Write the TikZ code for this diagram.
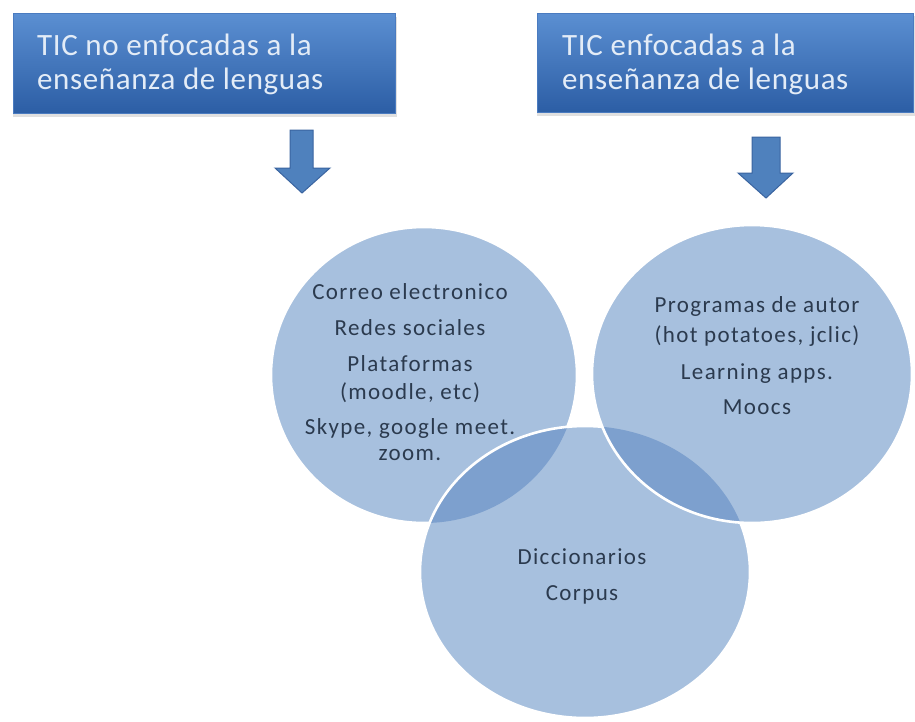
\documentclass[tikz,border=0pt]{standalone}
\usepackage{fontspec}
\setmainfont{Carlito}
\definecolor{hdtop}{HTML}{5B8FD2}
\definecolor{hdbot}{HTML}{2C5EA5}
\definecolor{hdline}{HTML}{4A7BC0}
\definecolor{hdtext}{HTML}{E3ECF7}
\definecolor{arrfill}{HTML}{4F81BD}
\definecolor{arrline}{HTML}{3A64A0}
\definecolor{cirlight}{HTML}{A7C0DE}
\definecolor{cirdark}{HTML}{7DA0CE}
\definecolor{cirtext}{HTML}{2B3A4E}
\tikzset{
  hdbox/.style={draw=hdline, line width=0.8pt, top color=hdtop, bottom color=hdbot, inner sep=0pt},
  hdshadow/.style={fill=black, opacity=0.12, inner sep=0pt},
  hdtxt/.style={anchor=base west, inner sep=0pt, text=hdtext, font=\fontsize{31}{34}\selectfont\addfontfeatures{LetterSpace=2}},
  downarrow/.style={fill=arrfill, draw=arrline, line width=1pt, line join=miter},
  cfill/.style={fill=cirlight},
  cdark/.style={fill=cirdark},
  cline/.style={draw=white, line width=2.6pt},
  ctxt/.style={anchor=base, inner sep=0pt, text=cirtext, font=\fontsize{23}{27}\selectfont\addfontfeatures{LetterSpace=6}}
}
\begin{document}
\begin{tikzpicture}[x=1pt,y=-1pt]
\useasboundingbox (0,0) rectangle (915,721);
\fill[white] (0,0) rectangle (915,721);

% header boxes
\node[hdshadow, minimum width=384pt, minimum height=100pt] (hdlsh) at (205,67) {};
\node[hdshadow, minimum width=378pt, minimum height=100pt] (hdrsh) at (726,66) {};
\node[hdbox, minimum width=382pt, minimum height=100pt] (hdl) at (204,63) {};
\node[hdbox, minimum width=376pt, minimum height=99pt] (hdr) at (725,62.5) {};
\node[hdtxt] (hdl1) at (37,55) {TIC no enfocadas a la};
\node[hdtxt] (hdl2) at (37,89) {enseñanza de lenguas};
\node[hdtxt] (hdr1) at (562,55) {TIC enfocadas a la};
\node[hdtxt] (hdr2) at (562,89) {enseñanza de lenguas};

% block arrows
\draw[downarrow] (290,130) -- (313,130) -- (313,168) -- (330,168) -- (302,193) -- (275,168) -- (290,168) -- cycle;
\draw[downarrow] (752,137) -- (780,137) -- (780,173) -- (793,173) -- (766,198) -- (738,173) -- (752,173) -- cycle;

% circles
\coordinate (ca) at (424,375);
\coordinate (cb) at (752,374);
\coordinate (cc) at (585,572);

\fill[cfill] (ca) ellipse [x radius=153pt, y radius=148pt];
\draw[cline] (ca) ellipse [x radius=153pt, y radius=148pt];
\fill[cfill] (cc) ellipse [x radius=165pt, y radius=146pt];
\begin{scope}
  \clip (ca) ellipse [x radius=153pt, y radius=148pt];
  \fill[cdark] (cc) ellipse [x radius=165pt, y radius=146pt];
\end{scope}
\draw[cline] (cc) ellipse [x radius=165pt, y radius=146pt];
\fill[cfill] (cb) ellipse [x radius=160pt, y radius=149pt];
\begin{scope}
  \clip (cb) ellipse [x radius=160pt, y radius=149pt];
  \fill[cdark] (cc) ellipse [x radius=165pt, y radius=146pt];
\end{scope}
\draw[cline] (cb) ellipse [x radius=160pt, y radius=149pt];

% texts circle A
\node[ctxt] (ta1) at (410,299) {Correo electronico};
\node[ctxt] (ta2) at (410,335) {Redes sociales};
\node[ctxt] (ta3) at (410,371) {Plataformas};
\node[ctxt] (ta4) at (410,399) {(moodle, etc)};
\node[ctxt] (ta5) at (410,434) {Skype, google meet.};
\node[ctxt] (ta6) at (410,460) {zoom.};

% texts circle B
\node[ctxt] (tb1) at (757,312) {Programas de autor};
\node[ctxt] (tb2) at (757,342) {(hot potatoes, jclic)};
\node[ctxt] (tb3) at (757,379) {Learning apps.};
\node[ctxt] (tb4) at (757,414) {Moocs};

% texts circle C
\node[ctxt] (tc1) at (582,564) {Diccionarios};
\node[ctxt] (tc2) at (582,600) {Corpus};
\end{tikzpicture}
\end{document}
